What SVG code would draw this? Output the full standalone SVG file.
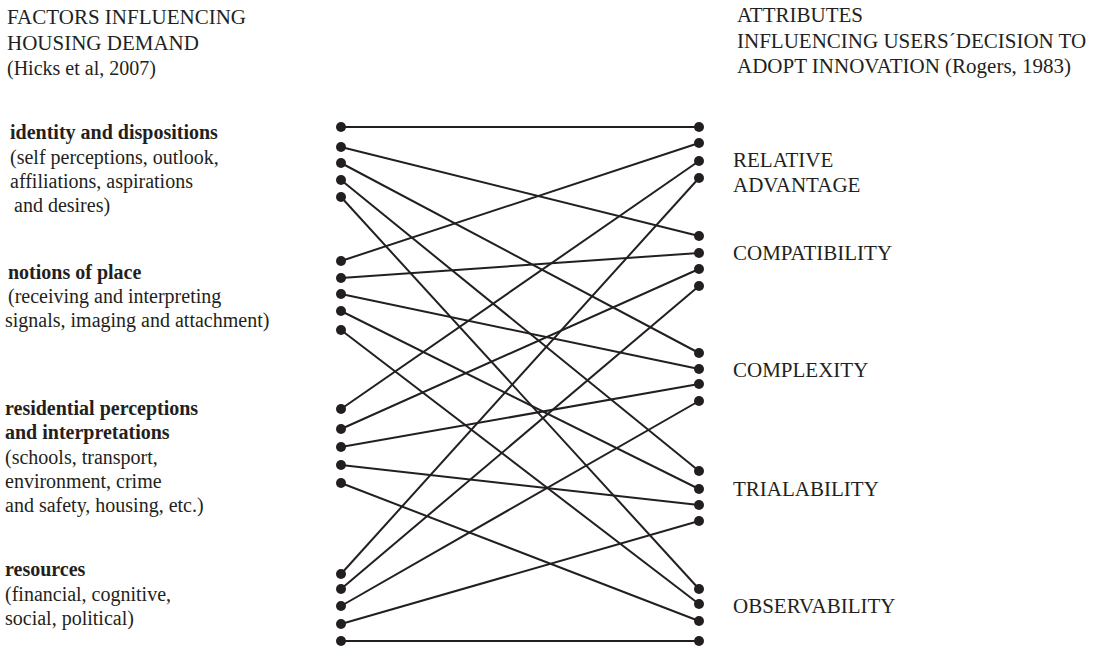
<svg xmlns="http://www.w3.org/2000/svg" width="1093" height="647" viewBox="0 0 1093 647">
  <style>
    text { font-family: "Liberation Serif", "Times New Roman", serif; font-size: 20px; fill: #231f20; }
    .caps { font-size: 21px; }
    .b { font-weight: bold; }
    .links line { stroke: #231f20; stroke-width: 2; }
    .dot { fill: #231f20; }
  </style>
  <rect width="1093" height="647" fill="#ffffff"/>

  <!-- column headings -->
  <g id="heading-left">
    <text class="caps" x="7" y="24">FACTORS INFLUENCING</text>
    <text class="caps" x="7" y="50">HOUSING DEMAND</text>
    <text x="7" y="75">(Hicks et al, 2007)</text>
  </g>
  <g id="heading-right">
    <text class="caps" x="737" y="22">ATTRIBUTES</text>
    <text class="caps" x="737" y="48">INFLUENCING USERS´DECISION TO</text>
    <text class="caps" x="737" y="73">ADOPT INNOVATION (Rogers, 1983)</text>
  </g>

  <!-- connectors: every factor linked to every attribute -->
  <g id="connectors" class="links">
    <line x1="341" y1="127" x2="699" y2="127"/>
    <line x1="341" y1="147" x2="699" y2="236"/>
    <line x1="341" y1="163" x2="699" y2="353"/>
    <line x1="341" y1="180" x2="699" y2="471"/>
    <line x1="341" y1="197" x2="699" y2="589"/>

    <line x1="341" y1="261" x2="699" y2="143"/>
    <line x1="341" y1="278" x2="699" y2="253"/>
    <line x1="341" y1="294" x2="699" y2="369"/>
    <line x1="341" y1="311" x2="699" y2="489"/>
    <line x1="341" y1="330" x2="699" y2="604"/>

    <line x1="341" y1="409" x2="699" y2="161"/>
    <line x1="341" y1="429" x2="699" y2="269"/>
    <line x1="341" y1="447" x2="699" y2="384"/>
    <line x1="341" y1="465" x2="699" y2="505"/>
    <line x1="341" y1="483" x2="699" y2="621"/>

    <line x1="341" y1="574" x2="699" y2="178"/>
    <line x1="341" y1="589" x2="699" y2="286"/>
    <line x1="341" y1="606" x2="699" y2="401"/>
    <line x1="341" y1="624" x2="699" y2="521"/>
    <line x1="341" y1="641" x2="699" y2="641"/>
  </g>

  <!-- factor nodes -->
  <g id="factor-identity">
    <text class="b" x="10" y="139">identity and dispositions</text>
    <text x="10" y="164">(self perceptions, outlook,</text>
    <text x="10" y="188">affiliations, aspirations</text>
    <text x="14" y="212">and desires)</text>
    <circle class="dot" cx="341" cy="127" r="5"/>
    <circle class="dot" cx="341" cy="147" r="5"/>
    <circle class="dot" cx="341" cy="163" r="5"/>
    <circle class="dot" cx="341" cy="180" r="5"/>
    <circle class="dot" cx="341" cy="197" r="5"/>
  </g>
  <g id="factor-place">
    <text class="b" x="8" y="279">notions of place</text>
    <text x="8" y="303">(receiving and interpreting</text>
    <text x="5" y="327">signals, imaging and attachment)</text>
    <circle class="dot" cx="341" cy="261" r="5"/>
    <circle class="dot" cx="341" cy="278" r="5"/>
    <circle class="dot" cx="341" cy="294" r="5"/>
    <circle class="dot" cx="341" cy="311" r="5"/>
    <circle class="dot" cx="341" cy="330" r="5"/>
  </g>
  <g id="factor-residential">
    <text class="b" x="5" y="415">residential perceptions</text>
    <text class="b" x="5" y="439">and interpretations</text>
    <text x="5" y="464">(schools, transport,</text>
    <text x="5" y="488">environment, crime</text>
    <text x="5" y="512">and safety, housing, etc.)</text>
    <circle class="dot" cx="341" cy="409" r="5"/>
    <circle class="dot" cx="341" cy="429" r="5"/>
    <circle class="dot" cx="341" cy="447" r="5"/>
    <circle class="dot" cx="341" cy="465" r="5"/>
    <circle class="dot" cx="341" cy="483" r="5"/>
  </g>
  <g id="factor-resources">
    <text class="b" x="5" y="576">resources</text>
    <text x="5" y="601">(financial, cognitive,</text>
    <text x="5" y="625">social, political)</text>
    <circle class="dot" cx="341" cy="574" r="5"/>
    <circle class="dot" cx="341" cy="589" r="5"/>
    <circle class="dot" cx="341" cy="606" r="5"/>
    <circle class="dot" cx="341" cy="624" r="5"/>
    <circle class="dot" cx="341" cy="641" r="5"/>
  </g>

  <!-- attribute nodes -->
  <g id="attr-relative-advantage">
    <text class="caps" x="733" y="167">RELATIVE</text>
    <text class="caps" x="733" y="192">ADVANTAGE</text>
    <circle class="dot" cx="699" cy="127" r="5"/>
    <circle class="dot" cx="699" cy="143" r="5"/>
    <circle class="dot" cx="699" cy="161" r="5"/>
    <circle class="dot" cx="699" cy="178" r="5"/>
  </g>
  <g id="attr-compatibility">
    <text class="caps" x="733" y="260">COMPATIBILITY</text>
    <circle class="dot" cx="699" cy="236" r="5"/>
    <circle class="dot" cx="699" cy="253" r="5"/>
    <circle class="dot" cx="699" cy="269" r="5"/>
    <circle class="dot" cx="699" cy="286" r="5"/>
  </g>
  <g id="attr-complexity">
    <text class="caps" x="733" y="377">COMPLEXITY</text>
    <circle class="dot" cx="699" cy="353" r="5"/>
    <circle class="dot" cx="699" cy="369" r="5"/>
    <circle class="dot" cx="699" cy="384" r="5"/>
    <circle class="dot" cx="699" cy="401" r="5"/>
  </g>
  <g id="attr-trialability">
    <text class="caps" x="733" y="496">TRIALABILITY</text>
    <circle class="dot" cx="699" cy="471" r="5"/>
    <circle class="dot" cx="699" cy="489" r="5"/>
    <circle class="dot" cx="699" cy="505" r="5"/>
    <circle class="dot" cx="699" cy="521" r="5"/>
  </g>
  <g id="attr-observability">
    <text class="caps" x="733" y="613">OBSERVABILITY</text>
    <circle class="dot" cx="699" cy="589" r="5"/>
    <circle class="dot" cx="699" cy="604" r="5"/>
    <circle class="dot" cx="699" cy="621" r="5"/>
    <circle class="dot" cx="699" cy="641" r="5"/>
  </g>
</svg>
